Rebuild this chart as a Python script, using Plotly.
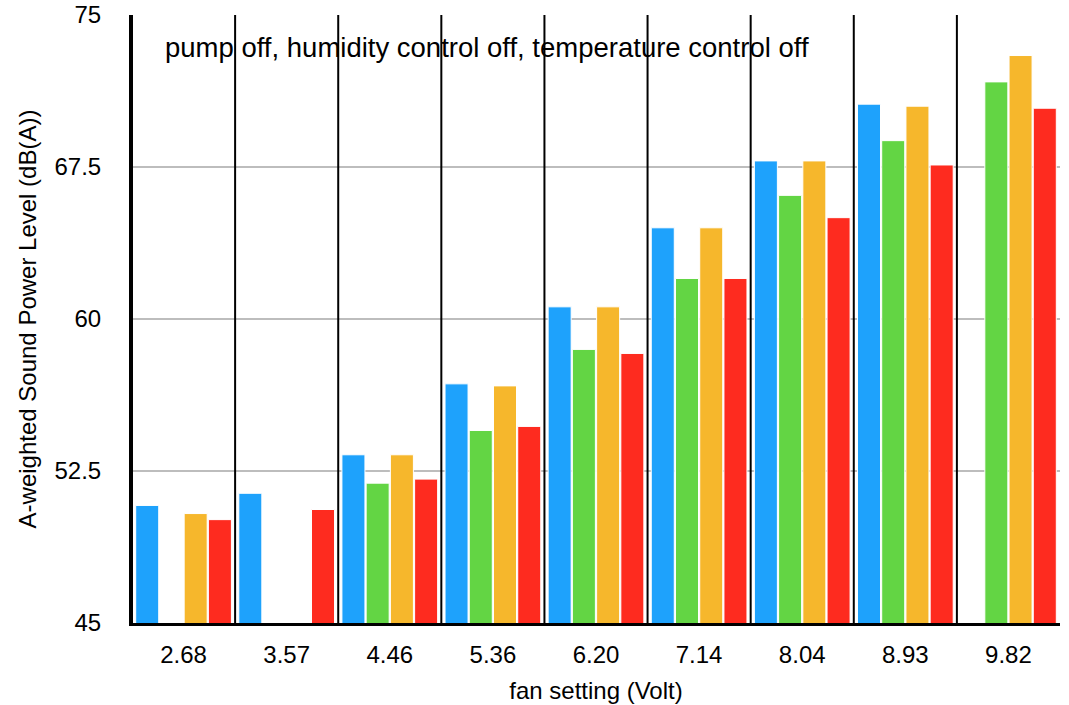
import plotly.graph_objects as go

# Fan voltage settings (x categories)
fan_settings = ["2.68", "3.57", "4.46", "5.36", "6.20", "7.14", "8.04", "8.93", "9.82"]

# A-weighted sound power level, dB(A), one list per measurement series
series_a = [50.8, 51.4, 53.3, 56.8, 60.6, 64.5, 67.8, 70.6, None]
series_b = [None, None, 51.9, 54.5, 58.5, 62.0, 66.1, 68.8, 71.7]
series_c = [50.4, None, 53.3, 56.7, 60.6, 64.5, 67.8, 70.5, 73.0]
series_d = [50.1, 50.6, 52.1, 54.7, 58.3, 62.0, 65.0, 67.6, 70.4]

y_ticks = [45, 52.5, 60, 67.5, 75]
y_tick_text = ["45", "52.5", "60", "67.5", "75"]

colors = ["#1EA2FC", "#63D544", "#F6B72C", "#FE2B1F"]
names = ["Series A", "Series B", "Series C", "Series D"]

fig = go.Figure()
for vals, col, nm in zip([series_a, series_b, series_c, series_d], colors, names):
    fig.add_trace(go.Bar(
        x=fan_settings, y=vals, name=nm,
        marker=dict(color=col, line=dict(color="white", width=1)),
    ))

# vertical separators between fan settings
shapes = []
for i in range(len(fan_settings)):
    shapes.append(dict(
        type="line", xref="x", yref="paper",
        x0=i - 0.5, x1=i - 0.5, y0=0, y1=1,
        line=dict(color="black", width=2), layer="above",
    ))

fig.update_layout(
    width=1069, height=705,
    margin=dict(l=132, r=9, t=15, b=82),
    paper_bgcolor="white", plot_bgcolor="white",
    barmode="group", bargap=0.06, bargroupgap=0.05,
    showlegend=False,
    font=dict(family="Liberation Sans, Arial, sans-serif", color="black"),
    shapes=shapes,
    annotations=[dict(
        text="pump off, humidity control off, temperature control off",
        xref="paper", yref="paper", x=0.033, y=0.946,
        xanchor="left", yanchor="middle", showarrow=False,
        font=dict(size=27.5, color="black"),
    )],
)

fig.update_xaxes(
    type="category", range=[-0.5, len(fan_settings) - 0.5], automargin=False,
    showgrid=False, showline=True, linecolor="black", linewidth=3,
    ticks="", tickfont=dict(size=24), ticklabelstandoff=8,
    title=dict(text="fan setting (Volt)", font=dict(size=24), standoff=16),
)
fig.update_yaxes(
    range=[45, 75], tickvals=y_ticks, ticktext=y_tick_text, automargin=False,
    showgrid=True, gridcolor="#BDBDBD", gridwidth=2,
    showline=True, linecolor="black", linewidth=3, zeroline=False,
    ticks="", tickfont=dict(size=24), ticklabelstandoff=23,
    title=dict(text="A-weighted Sound Power Level (dB(A))", font=dict(size=24), standoff=12),
)

fig.write_html("out.html")
